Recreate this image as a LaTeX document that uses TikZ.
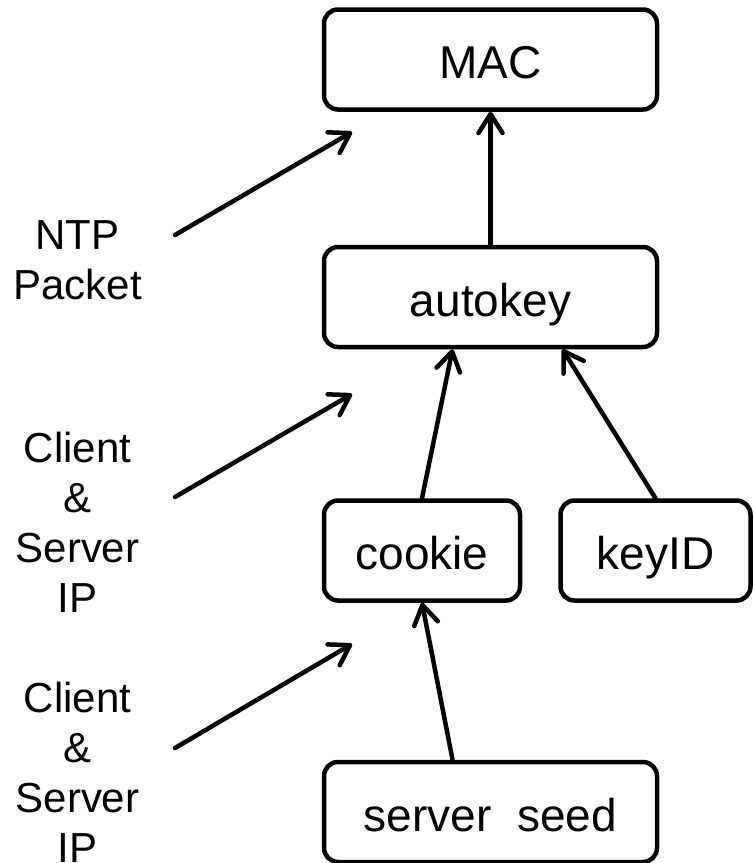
\documentclass[tikz,border=0pt]{standalone}
\usepackage{fontspec}
\setmainfont{Liberation Sans}
\usetikzlibrary{arrows.meta,positioning}
\tikzset{
  blk/.style={draw,line width=4.5pt,rounded corners=14pt,minimum width=#1,minimum height=100pt,inner sep=0pt,
              font=\fontsize{46}{55}\selectfont,text height=38pt,text depth=0pt},
  blk/.default=333pt,
  flow/.style={-{Straight Barb[length=19pt,width=24pt,round]},line width=4.5pt,line cap=round},
  lbl/.style={align=center,font=\fontsize{42}{50}\selectfont,inner sep=0pt},
}

\begin{document}
\begin{tikzpicture}[x=1pt,y=1pt]
  \useasboundingbox (0,0) rectangle (753,-863);
  % key chain
  \node[blk] (mac) at (490.5,-59.5) {MAC};
  \node[blk,below=133pt of mac] (auto) {autokey};
  \node[blk=196pt,below=149pt of auto.south west,anchor=north west] (cookie) {cookie};
  \node[blk=190pt,right=36pt of cookie] (keyid) {keyID};
  \node[blk,below=157pt of cookie.south west,anchor=north west] (seed) {server~~seed};
  \draw[flow] (auto) -- (mac);
  \draw[flow] (cookie.north) -- (auto.234);
  \draw[flow] (keyid.north) -- (auto.324);
  \draw[flow] (seed.126) -- (cookie.south);
  % inputs on the left
  \node[lbl] (pkt) at (77.5,-260) {NTP\\Packet};
  \node[lbl] (ipa) at (77.5,-522) {Client\\\&\\Server\\IP};
  \node[lbl] (ipb) at (77.5,-772) {Client\\\&\\Server\\IP};
  \coordinate (pkt-s) at (175,-235); \coordinate (pkt-e) at (352,-132);
  \coordinate (ipa-s) at (175,-497); \coordinate (ipa-e) at (352,-394);
  \coordinate (ipb-s) at (175,-748); \coordinate (ipb-e) at (352,-644);
  \draw[flow] (pkt-s) -- (pkt-e);
  \draw[flow] (ipa-s) -- (ipa-e);
  \draw[flow] (ipb-s) -- (ipb-e);
\end{tikzpicture}
\end{document}
